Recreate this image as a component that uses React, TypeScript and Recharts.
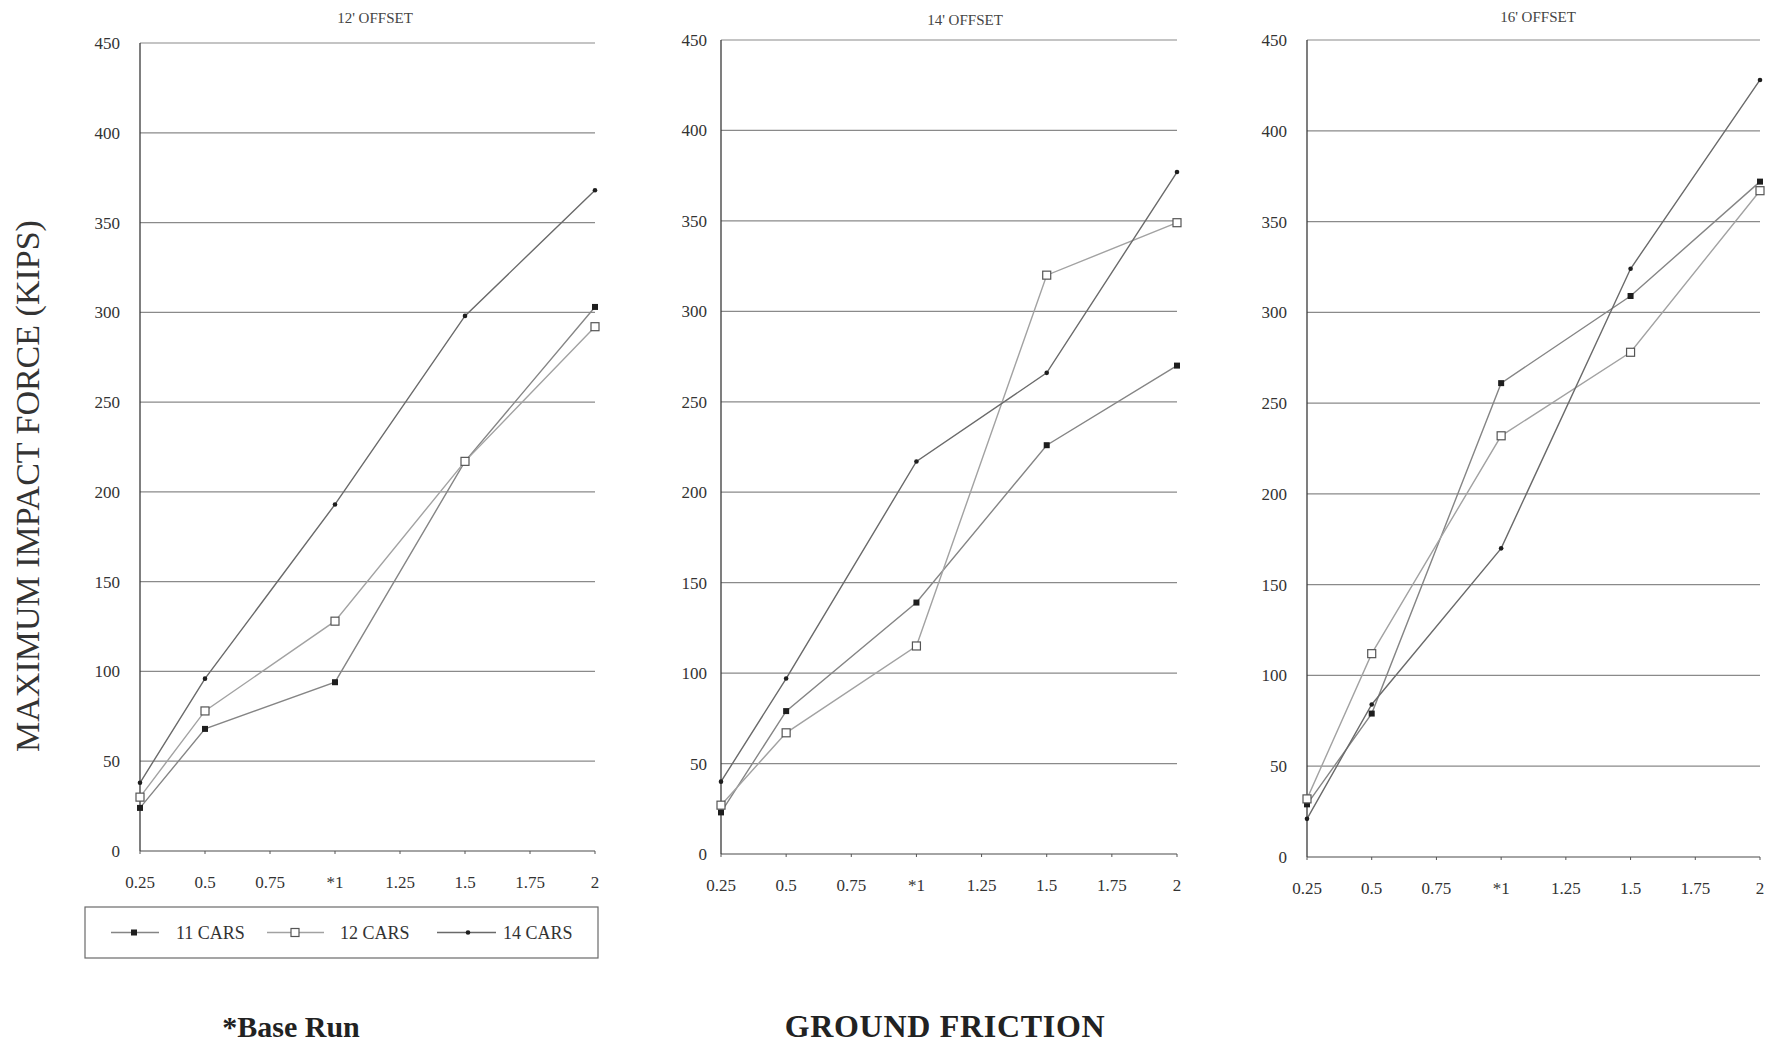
import React from 'react';
import { LineChart, Line, XAxis, YAxis, CartesianGrid } from 'recharts';

// Ground friction coefficients that were simulated
const FRICTION = [0.25, 0.5, 1, 1.5, 2];
const FRICTION_TICKS = [0.25, 0.5, 0.75, 1, 1.25, 1.5, 1.75, 2];
const FORCE_TICKS = [0, 50, 100, 150, 200, 250, 300, 350, 400, 450];
const SERIES_LABELS = ['11 CARS', '12 CARS', '14 CARS'];
const PANEL_TITLES = ["12' OFFSET", "14' OFFSET", "16' OFFSET"];

// Maximum impact force (kips), 12 ft offset
const OFFSET12_CARS11 = [24, 68, 94, 217, 303];
const OFFSET12_CARS12 = [30, 78, 128, 217, 292];
const OFFSET12_CARS14 = [38, 96, 193, 298, 368];

// Maximum impact force (kips), 14 ft offset
const OFFSET14_CARS11 = [23, 79, 139, 226, 270];
const OFFSET14_CARS12 = [27, 67, 115, 320, 349];
const OFFSET14_CARS14 = [40, 97, 217, 266, 377];

// Maximum impact force (kips), 16 ft offset
const OFFSET16_CARS11 = [29, 79, 261, 309, 372];
const OFFSET16_CARS12 = [32, 112, 232, 278, 367];
const OFFSET16_CARS14 = [21, 84, 170, 324, 428];

const PANEL_SERIES = [
  [OFFSET12_CARS11, OFFSET12_CARS12, OFFSET12_CARS14],
  [OFFSET14_CARS11, OFFSET14_CARS12, OFFSET14_CARS14],
  [OFFSET16_CARS11, OFFSET16_CARS12, OFFSET16_CARS14],
];

const SERIES_KEYS = ['c11', 'c12', 'c14'];
const SERIES_COLORS = ['#858585', '#a2a2a2', '#6a6a6a'];

const FONT = '"Liberation Serif", "DejaVu Serif", serif';
const PAGE = 8; // body margin
const STAGE_W = 1764;
const STAGE_H = 1039;

// plot-area rectangles in page pixels
const LAYOUT = [
  { left: 140, right: 595, top: 43, bottom: 851, titleX: 375, titleY: 18 },
  { left: 721, right: 1177, top: 40, bottom: 854, titleX: 965, titleY: 20 },
  { left: 1307, right: 1760, top: 40, bottom: 857, titleX: 1538, titleY: 17 },
];

const Y_W = 60;
const M_T = 10;
const M_R = 14;
const X_H = 50;

const FilledSquare = (p: any) => (
  <rect key={`fs-${p.index}`} x={p.cx - 3} y={p.cy - 3} width={6} height={6} fill="#1e1e1e" />
);
const OpenSquare = (p: any) => (
  <rect
    key={`os-${p.index}`}
    x={p.cx - 4}
    y={p.cy - 4}
    width={8}
    height={8}
    fill="#ffffff"
    stroke="#555"
    strokeWidth={1.2}
  />
);
const SmallDot = (p: any) => <circle key={`sd-${p.index}`} cx={p.cx} cy={p.cy} r={2.3} fill="#1e1e1e" />;

const MARKERS = [FilledSquare, OpenSquare, SmallDot];

const buildRows = (series: number[][]) =>
  FRICTION.map((f, i) => ({
    friction: f,
    c11: series[0][i],
    c12: series[1][i],
    c14: series[2][i],
  }));

const fmtFriction = (v: number) => (v === 1 ? '*1' : String(v));

function Panel({ index }: { index: number }) {
  const g = LAYOUT[index];
  const rows = buildRows(PANEL_SERIES[index]);
  const width = g.right - g.left + Y_W + M_R;
  const height = g.bottom - g.top + M_T + X_H;
  return (
    <div style={{ position: 'absolute', left: g.left - PAGE - Y_W, top: g.top - PAGE - M_T }}>
      <LineChart width={width} height={height} data={rows} margin={{ top: M_T, right: M_R, left: 0, bottom: 0 }}>
        <CartesianGrid horizontal vertical={false} stroke="#8a8a8a" strokeWidth={1.2} />
        <XAxis
          dataKey="friction"
          type="number"
          domain={[0.25, 2]}
          ticks={FRICTION_TICKS}
          interval={0}
          height={X_H}
          tickFormatter={fmtFriction}
          axisLine={{ stroke: '#9a9a9a', strokeWidth: 1.4 }}
          tickLine={{ stroke: '#555' }}
          tickSize={3}
          tickMargin={22}
          tick={{ fontFamily: FONT, fontSize: 17, fill: '#333' }}
        />
        <YAxis
          type="number"
          domain={[0, 450]}
          ticks={FORCE_TICKS}
          interval={0}
          width={Y_W}
          axisLine={{ stroke: '#3a3a3a', strokeWidth: 1.3 }}
          tickLine={false}
          tickSize={0}
          tickMargin={index === 1 ? 14 : 20}
          tick={{ fontFamily: FONT, fontSize: 17, fill: '#333' }}
        />
        {SERIES_KEYS.map((k, si) => (
          <Line
            key={k}
            dataKey={k}
            name={SERIES_LABELS[si]}
            type="linear"
            stroke={SERIES_COLORS[si]}
            strokeWidth={1.4}
            dot={MARKERS[si]}
            activeDot={false}
            isAnimationActive={false}
          />
        ))}
      </LineChart>
    </div>
  );
}

function Legend() {
  const x0 = 85 - PAGE;
  const y0 = 907 - PAGE;
  const w = 598 - 85;
  const h = 958 - 907;
  const cy = y0 + h / 2;
  const items = [
    { lineFrom: 111, lineTo: 159, mark: 134, text: 176 },
    { lineFrom: 267, lineTo: 324, mark: 295, text: 340 },
    { lineFrom: 437, lineTo: 496, mark: 468, text: 503 },
  ];
  return (
    <g>
      <rect x={x0} y={y0} width={w} height={h} fill="none" stroke="#6a6a6a" strokeWidth={1.2} />
      {items.map((it, i) => {
        const M = MARKERS[i];
        return (
          <g key={SERIES_LABELS[i]}>
            <line
              x1={it.lineFrom - PAGE}
              x2={it.lineTo - PAGE}
              y1={cy}
              y2={cy}
              stroke={SERIES_COLORS[i]}
              strokeWidth={1.4}
            />
            {M({ cx: it.mark - PAGE, cy, index: i })}
            <text
              x={it.text - PAGE}
              y={cy}
              dominantBaseline="central"
              fontFamily={FONT}
              fontSize={18}
              fill="#333"
            >
              {SERIES_LABELS[i]}
            </text>
          </g>
        );
      })}
    </g>
  );
}

export default function App() {
  return (
    <div style={{ position: 'relative', width: STAGE_W, height: STAGE_H, background: '#fff' }}>
      {LAYOUT.map((_, i) => (
        <Panel key={i} index={i} />
      ))}
      <svg
        width={STAGE_W}
        height={STAGE_H}
        style={{ position: 'absolute', left: 0, top: 0, pointerEvents: 'none', overflow: 'visible' }}
      >
        {LAYOUT.map((g, i) => (
          <text
            key={PANEL_TITLES[i]}
            x={g.titleX - PAGE}
            y={g.titleY - PAGE}
            textAnchor="middle"
            dominantBaseline="central"
            fontFamily={FONT}
            fontSize={15}
            fill="#444"
          >
            {PANEL_TITLES[i]}
          </text>
        ))}
        <text
          x={0}
          y={0}
          transform={`translate(${27 - PAGE}, ${486 - PAGE}) rotate(-90)`}
          textAnchor="middle"
          dominantBaseline="central"
          fontFamily={FONT}
          fontSize={34}
          fill="#333"
        >
          MAXIMUM IMPACT FORCE (KIPS)
        </text>
        <text
          x={945 - PAGE}
          y={1026 - PAGE}
          textAnchor="middle"
          dominantBaseline="central"
          fontFamily={FONT}
          fontSize={32}
          fontWeight="bold"
          letterSpacing={0.7}
          fill="#222"
        >
          GROUND FRICTION
        </text>
        <text
          x={291 - PAGE}
          y={1026 - PAGE}
          textAnchor="middle"
          dominantBaseline="central"
          fontFamily={FONT}
          fontSize={30}
          fontWeight="bold"
          fill="#222"
        >
          *Base Run
        </text>
        <Legend />
      </svg>
    </div>
  );
}
